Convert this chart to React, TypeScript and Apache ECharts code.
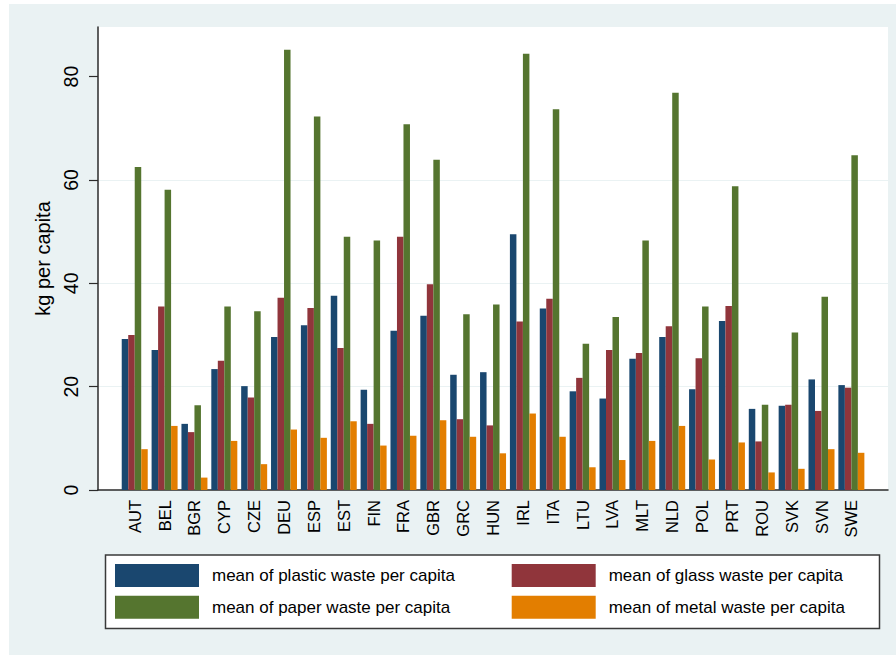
import React, { useEffect, useRef } from "react";
import * as echarts from "echarts";

const countries = ["AUT","BEL","BGR","CYP","CZE","DEU","ESP","EST","FIN","FRA","GBR","GRC","HUN","IRL","ITA","LTU","LVA","MLT","NLD","POL","PRT","ROU","SVK","SVN","SWE"];
const plastic = [29.2,27.1,12.8,23.4,20.1,29.6,31.9,37.6,19.4,30.8,33.7,22.3,22.8,49.5,35.1,19.1,17.7,25.4,29.6,19.5,32.7,15.7,16.3,21.4,20.3];
const glass = [30.0,35.5,11.2,25.0,17.9,37.2,35.2,27.5,12.8,49.0,39.8,13.7,12.5,32.6,37.0,21.7,27.1,26.5,31.7,25.5,35.6,9.4,16.5,15.3,19.8];
const paper = [62.5,58.1,16.4,35.5,34.6,85.2,72.3,49.0,48.3,70.8,63.9,34.0,35.9,84.4,73.7,28.3,33.5,48.3,76.9,35.5,58.8,16.5,30.5,37.4,64.8];
const metal = [7.9,12.4,2.4,9.5,5.0,11.7,10.1,13.3,8.6,10.5,13.5,10.3,7.1,14.8,10.3,4.4,5.8,9.5,12.4,5.9,9.2,3.4,4.1,7.9,7.2];
const yTicks = [0, 20, 40, 60, 80];

const seriesNames = [
  "mean of plastic waste per capita",
  "mean of glass waste per capita",
  "mean of paper waste per capita",
  "mean of metal waste per capita",
];
const colors = ["#1A476F", "#90353B", "#55752F", "#E37E00"];

const FONT = "'Liberation Sans', Arial, Helvetica, sans-serif";
const YMAX = 89.6;

export default function App() {
  const ref = useRef<HTMLDivElement>(null);
  useEffect(() => {
    if (!ref.current) return;
    const chart = echarts.init(ref.current, null, { renderer: "svg" });
    const dataSets = [plastic, glass, paper, metal];
    const legendCommon = {
      orient: "vertical",
      top: 559,
      itemWidth: 84,
      itemHeight: 23,
      itemGap: 8.7,
      icon: "rect",
      textStyle: { fontSize: 17, color: "#000", fontFamily: FONT, padding: [0, 0, 0, 8] },
    };
    const option: any = {
      animation: false,
      backgroundColor: "#ffffff",
      textStyle: { fontFamily: FONT },
      graphic: [
        {
          type: "rect",
          z: -100,
          shape: { x: 9, y: 4, width: 900, height: 660 },
          style: { fill: "#EAF2F3" },
        },
        {
          type: "rect",
          shape: { x: 105.5, y: 555, width: 774, height: 73.5 },
          style: { fill: "#ffffff", stroke: "#3a3a3a", lineWidth: 1.5 },
        },
      ],
      grid: [
        { left: 98, right: 8, top: 27, bottom: 165, show: true, backgroundColor: "#ffffff", borderWidth: 0 },
        { left: 119.8, right: 29.7, top: 27, bottom: 165, show: false },
      ],
      xAxis: [
        {
          gridIndex: 0,
          type: "value",
          min: 0,
          max: 1,
          axisLine: { show: true, lineStyle: { color: "#2b2b2b", width: 1.5 } },
          axisTick: { show: false },
          axisLabel: { show: false },
          splitLine: { show: false },
        },
        {
          gridIndex: 1,
          type: "category",
          data: countries,
          axisLine: { show: false },
          axisTick: { show: false },
          axisLabel: {
            rotate: 90,
            margin: 10,
            fontSize: 16.5,
            color: "#000",
            fontFamily: FONT,
            interval: 0,
          },
        },
      ],
      yAxis: [
        {
          gridIndex: 0,
          type: "value",
          min: 0,
          max: YMAX,
          interval: 20,
          name: "kg per capita",
          nameLocation: "middle",
          nameRotate: 90,
          nameGap: 40,
          nameTextStyle: { fontSize: 20, color: "#000", fontFamily: FONT },
          axisLine: { show: true, lineStyle: { color: "#2b2b2b", width: 1.5 } },
          axisTick: { show: true, length: 9, customValues: yTicks, lineStyle: { color: "#2b2b2b", width: 1.2 } },
          axisLabel: {
            rotate: 90,
            margin: 17,
            fontSize: 19.5,
            color: "#000",
            fontFamily: FONT,
            customValues: yTicks,
            formatter: (v: number) => (v % 20 === 0 ? String(v) : ""),
          },
          splitLine: { show: true, showMinLine: false, showMaxLine: false, lineStyle: { color: "#EAF2F3", width: 1.2 } },
        },
        {
          gridIndex: 1,
          type: "value",
          min: 0,
          max: YMAX,
          show: false,
          splitLine: { show: false },
        },
      ],
      legend: [
        { ...legendCommon, data: [seriesNames[0], seriesNames[2]], left: 110 },
        { ...legendCommon, data: [seriesNames[1], seriesNames[3]], left: 506.7 },
      ],
      series: dataSets.map((d, i) => ({
        name: seriesNames[i],
        type: "bar",
        xAxisIndex: 1,
        yAxisIndex: 1,
        data: d,
        barWidth: 6.5,
        barGap: "0%",
        itemStyle: { color: colors[i] },
      })),
    };
    chart.setOption(option);
    return () => chart.dispose();
  }, []);
  return (
    <div
      ref={ref}
      style={{ position: "fixed", left: 0, top: 0, width: 896, height: 655 }}
    />
  );
}
